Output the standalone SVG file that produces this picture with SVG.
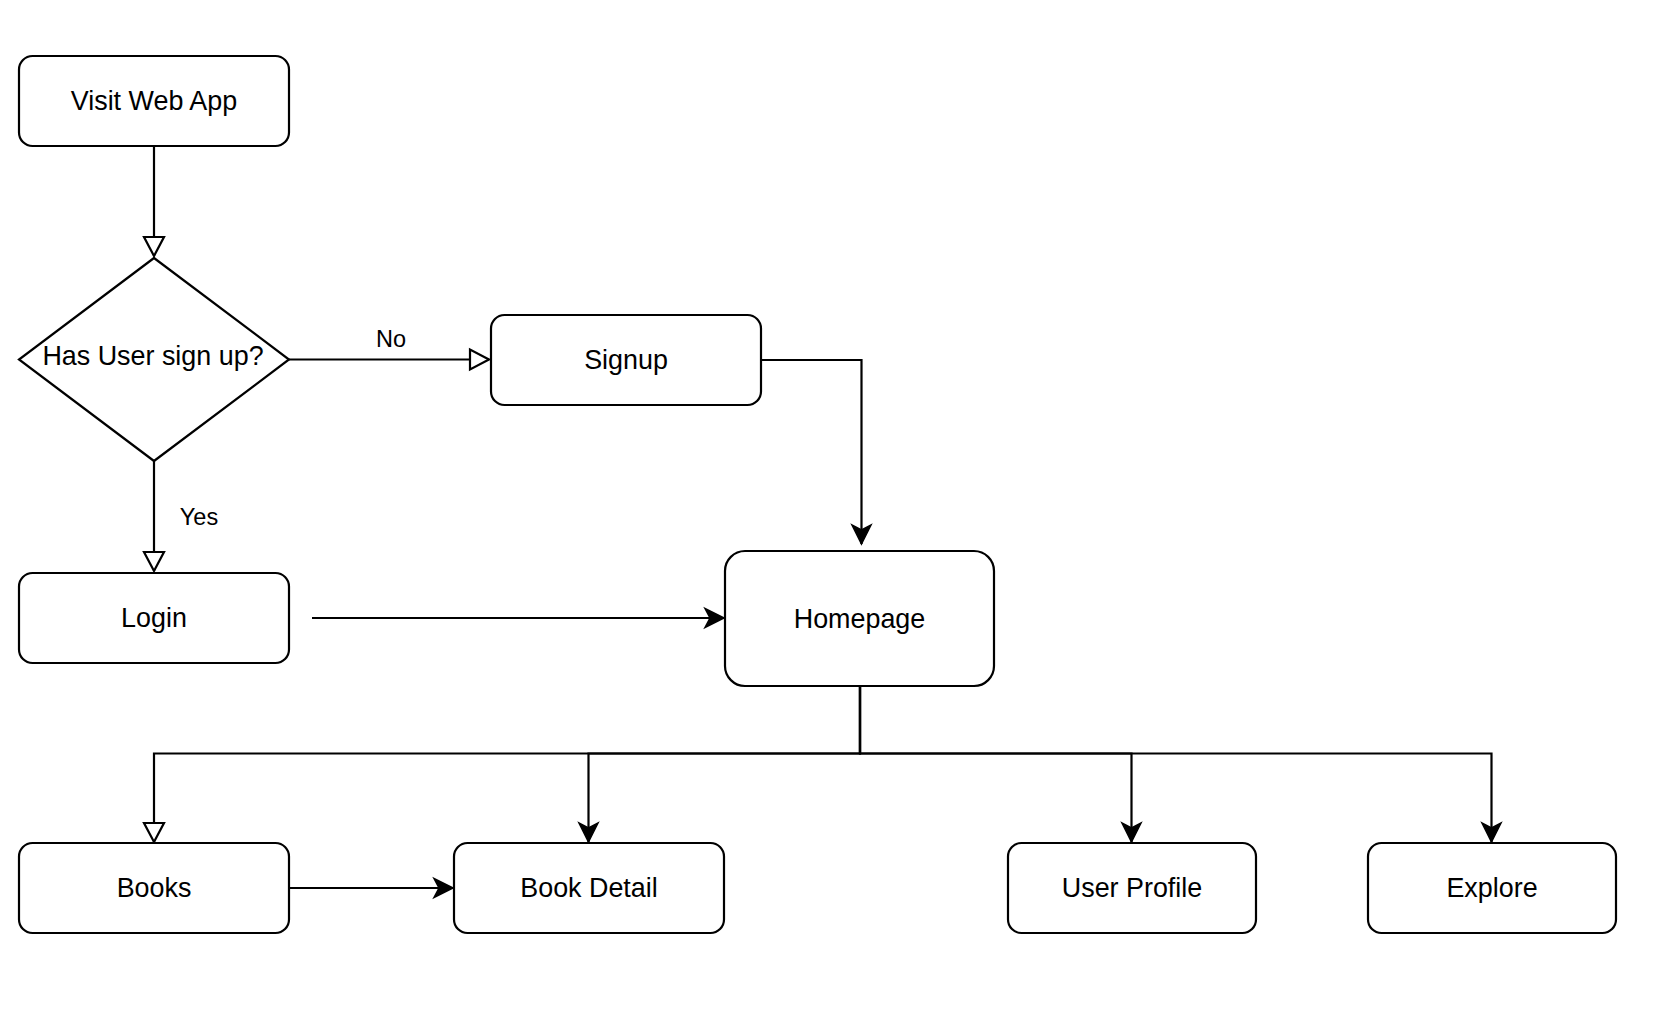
<svg xmlns="http://www.w3.org/2000/svg" width="1674" height="1023" viewBox="0 0 1674 1023">
<style>
.box{fill:#fff;stroke:#000;stroke-width:2.2}
.t{font-family:"Liberation Sans",Arial,sans-serif;font-size:26.9px;fill:#000;text-anchor:middle}
.lbl{font-family:"Liberation Sans",Arial,sans-serif;font-size:23.5px;fill:#000;text-anchor:middle}
.e{fill:none;stroke:#000;stroke-width:2.2}
.hol{marker-end:url(#block)}
.fil{marker-end:url(#classic)}
</style>
<defs>
<marker id="block" markerUnits="userSpaceOnUse" orient="auto" refX="0" refY="0" markerWidth="40" markerHeight="40" overflow="visible"><path d="M0,0 L-19,-10 L-19,10 Z" fill="#fff" stroke="#000" stroke-width="2.2" stroke-linejoin="miter"/></marker>
<marker id="classic" markerUnits="userSpaceOnUse" orient="auto" refX="0" refY="0" markerWidth="40" markerHeight="40" overflow="visible"><path d="M0,0 L-19,-9.5 L-14,0 L-19,9.5 Z" fill="#000" stroke="#000" stroke-width="1.5"/></marker>
</defs>
<rect width="1674" height="1023" fill="#fff"/>
<g id="connectors">
<path class="e hol" d="M154,146 L154,256"/>
<path class="e hol" d="M289,359.5 L489,359.5"/>
<path class="e hol" d="M154,461 L154,571"/>
<path class="e fil" d="M761,360 L861.5,360 L861.5,544"/>
<path class="e fil" d="M312,618 L724,618"/>
<path class="e hol" d="M860,686 L860,753.5 L154,753.5 L154,842"/>
<path class="e fil" d="M860,686 L860,753.5 L588.5,753.5 L588.5,842"/>
<path class="e fil" d="M860,686 L860,753.5 L1131.5,753.5 L1131.5,842"/>
<path class="e fil" d="M860,686 L860,753.5 L1491.5,753.5 L1491.5,842"/>
<path class="e fil" d="M289,888 L453,888"/>
<text class="lbl" x="391" y="347">No</text>
<text class="lbl" x="199" y="525">Yes</text>
</g>
<g id="visit"><rect class="box" x="19" y="56" width="270" height="90" rx="13.5"/><text class="t" x="154" y="110">Visit Web App</text></g>
<g id="decision"><path class="box" d="M154,258 L289,359.5 L154,461 L19,359.5 Z"/><text class="t" x="153" y="365">Has User sign up?</text></g>
<g id="signup"><rect class="box" x="491" y="315" width="270" height="90" rx="13.5"/><text class="t" x="626" y="369">Signup</text></g>
<g id="login"><rect class="box" x="19" y="573" width="270" height="90" rx="13.5"/><text class="t" x="154" y="627">Login</text></g>
<g id="homepage"><rect class="box" x="725" y="551" width="269" height="135" rx="20"/><text class="t" x="859.5" y="628">Homepage</text></g>
<g id="books"><rect class="box" x="19" y="843" width="270" height="90" rx="13.5"/><text class="t" x="154" y="897">Books</text></g>
<g id="bookdetail"><rect class="box" x="454" y="843" width="270" height="90" rx="13.5"/><text class="t" x="589" y="897">Book Detail</text></g>
<g id="userprofile"><rect class="box" x="1008" y="843" width="248" height="90" rx="13.5"/><text class="t" x="1132" y="897">User Profile</text></g>
<g id="explore"><rect class="box" x="1368" y="843" width="248" height="90" rx="13.5"/><text class="t" x="1492" y="897">Explore</text></g>
</svg>
